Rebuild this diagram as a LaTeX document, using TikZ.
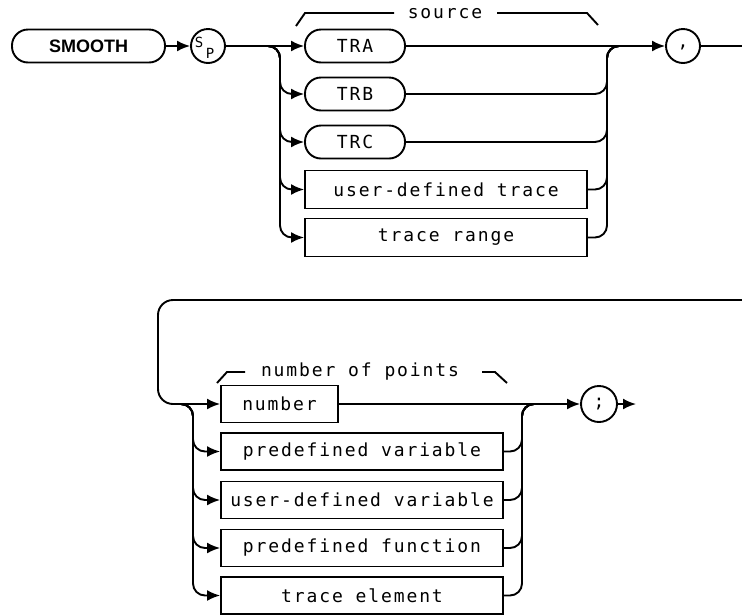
\documentclass[tikz,border=0pt]{standalone}
\usepackage{fontspec}
\usetikzlibrary{arrows.meta}
\newfontfamily\plotfont[LetterSpace=10.5]{DejaVu Sans Mono}
\newfontfamily\boldsans{Liberation Sans}
\begin{document}
\begin{tikzpicture}[x=1pt,y=-1pt,
  line/.style={line width=1.9pt},
  arr/.style={line,-{Latex[length=13pt,width=11pt]}},
  rbox/.style={draw,line width=1.9pt,rounded corners=16pt,minimum height=33pt,inner sep=0pt},
  sbox/.style={draw,rectangle,line width=1.9pt,minimum height=38pt,inner sep=0pt},
  circ/.style={draw,circle,line width=1.9pt,minimum size=34pt,inner sep=0pt},
  lbl/.style={inner sep=0pt,font=\plotfont\fontsize{18}{18}\selectfont},
  small/.style={inner sep=0pt,font=\plotfont\fontsize{14}{14}\selectfont},
  kw/.style={inner sep=0pt,font=\boldsans\bfseries\fontsize{18}{18}\selectfont}]
\useasboundingbox (0,0) rectangle (742,614);

% ---------- top section ----------
\node[rbox,minimum width=153pt,kw] (smooth) at (88.5,46) {SMOOTH};
\node[circ] (sp) at (208,46) {};
\node[small] (spS) at (199,42) {S};
\node[small] (spP) at (210,53) {P};

\node[rbox,minimum width=100pt,lbl] (tra) at (355,46) {TRA};
\node[rbox,minimum width=100pt,lbl] (trb) at (355,94) {TRB};
\node[rbox,minimum width=100pt,lbl] (trc) at (355,142) {TRC};
\node[sbox,minimum width=282pt,lbl] (udt) at (446,189.5) {user-defined trace};
\node[sbox,minimum width=282pt,lbl] (trng) at (446,237.5) {trace range};

\node[circ] (comma) at (683,46) {};
\node[lbl] (commaT) at (683,47) {,};

\coordinate (brA) at (266,46);
\coordinate (vxA) at (280,0);
\coordinate (mxA) at (607,0);
\coordinate (mjA) at (622,46);
\coordinate (exitR) at (742,46);

\draw[arr] (smooth) -- (sp);
\draw[arr] (sp) -- (tra);
\foreach \n in {trb,trc,udt,trng}{
  \draw[arr,rounded corners=12pt] (brA) -- (vxA |- brA) -- (vxA |- \n) -- (\n.west);
  \draw[line,rounded corners=12pt] (\n.east) -- (mxA |- \n) -- (mxA |- mjA) -- (mjA);
}
\draw[arr] (tra) -- (comma);
\draw[line] (comma) -- (exitR);

% source bracket
\node[lbl] (srcT) at (445,14) {source};
\draw[line] (296,26) -- (305,13) -- (394,13);
\draw[line] (497,13) -- (587,13) -- (598,25);

% ---------- bottom section ----------
\node[sbox,minimum width=117pt,minimum height=37pt,lbl] (num) at (279.5,404) {number};
\node[sbox,minimum width=282pt,minimum height=37pt,lbl] (pv) at (362,451.5) {predefined variable};
\node[sbox,minimum width=282pt,minimum height=37pt,lbl] (uv) at (362,500) {user-defined variable};
\node[sbox,minimum width=282pt,minimum height=37pt,lbl] (pf) at (362,548) {predefined function};
\node[sbox,minimum width=282pt,minimum height=37pt,lbl] (te) at (362,595.5) {trace element};

\node[circ,minimum size=36pt] (semi) at (599,404) {};
\node[lbl] (semiT) at (599,404) {;};

\coordinate (retR) at (742,300);
\coordinate (retC) at (158,300);
\coordinate (brB) at (178,404);
\coordinate (vxB) at (193,0);
\coordinate (mxB) at (522,0);
\coordinate (mjB) at (538,404);
\coordinate (endR) at (636,404);

\draw[arr,rounded corners=15pt] (retR) -- (retC) -- (retC |- num) -- (num.west);
\foreach \n in {pv,uv,pf,te}{
  \draw[arr,rounded corners=12pt] (brB) -- (vxB |- brB) -- (vxB |- \n) -- (\n.west);
  \draw[line,rounded corners=12pt] (\n.east) -- (mxB |- \n) -- (mxB |- mjB) -- (mjB);
}
\draw[arr] (num) -- (semi);
\draw[arr] (semi) -- (endR);

% number of points bracket
\node[lbl] (nopT) at (360,372) {number of points};
\draw[line] (217,383) -- (227,372) -- (245,372);
\draw[line] (482,372) -- (495,372) -- (507,383);
\end{tikzpicture}
\end{document}
